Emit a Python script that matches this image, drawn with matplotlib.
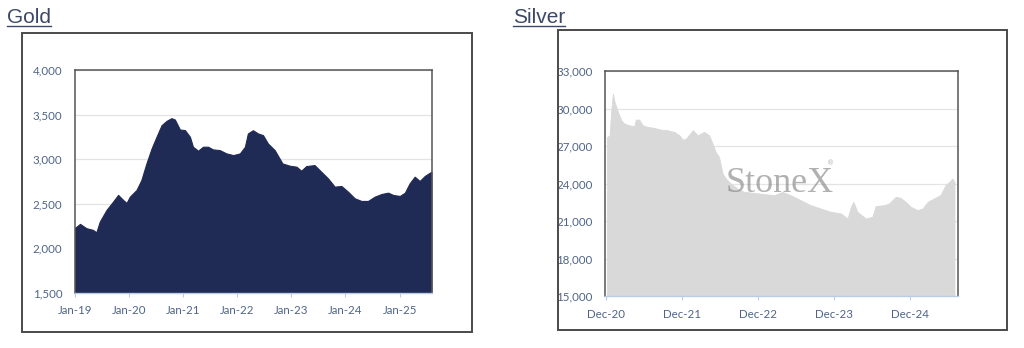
import matplotlib
matplotlib.use("Agg")
import matplotlib.pyplot as plt
import matplotlib.dates as mdates
from matplotlib.patches import Rectangle
from matplotlib.lines import Line2D
from matplotlib.ticker import FuncFormatter, FixedLocator
import pandas as pd

# ---- Gold price series ----
gold_dates = [
    "2019-01-01", "2019-02-04", "2019-03-18", "2019-05-02", "2019-05-25", "2019-06-17",
    "2019-08-01", "2019-09-15", "2019-10-19", "2019-11-22", "2019-12-15", "2020-01-06",
    "2020-02-20", "2020-03-24", "2020-04-27", "2020-06-01", "2020-07-04", "2020-08-07",
    "2020-09-10", "2020-10-13", "2020-11-05", "2020-12-09", "2021-01-12", "2021-02-15",
    "2021-03-07", "2021-04-11", "2021-05-14", "2021-06-17", "2021-07-20", "2021-09-04",
    "2021-10-19", "2021-12-04", "2022-01-18", "2022-02-21", "2022-03-13", "2022-04-16",
    "2022-05-20", "2022-06-23", "2022-07-26", "2022-09-10", "2022-11-01", "2022-12-20",
    "2023-02-04", "2023-03-08", "2023-04-11", "2023-06-06", "2023-07-21", "2023-09-05",
    "2023-10-20", "2023-12-04", "2024-01-18", "2024-03-03", "2024-04-17", "2024-06-01",
    "2024-07-16", "2024-08-31", "2024-10-15", "2024-11-18", "2025-01-02", "2025-02-05",
    "2025-03-09", "2025-04-12", "2025-05-16", "2025-06-19", "2025-08-03",
]
gold_values = [
    2230, 2275, 2227, 2208, 2180, 2300,
    2430, 2525, 2600, 2543, 2510, 2580,
    2655, 2767, 2953, 3121, 3251, 3381,
    3430, 3460, 3445, 3333, 3326, 3251,
    3140, 3095, 3140, 3140, 3110, 3102,
    3065, 3046, 3065, 3140, 3289, 3325,
    3289, 3270, 3177, 3102, 2953, 2927,
    2916, 2871, 2923, 2934, 2860, 2785,
    2692, 2700, 2636, 2562, 2532, 2532,
    2580, 2610, 2625, 2599, 2588, 2625,
    2730, 2804, 2756, 2812, 2860,
]

# ---- Silver price series ----
silver_dates = [
    "2020-12-07", "2020-12-20", "2020-12-28", "2021-01-05", "2021-01-13", "2021-01-29",
    "2021-02-14", "2021-03-01", "2021-03-24", "2021-04-17", "2021-04-25", "2021-05-11",
    "2021-05-27", "2021-06-20", "2021-07-22", "2021-08-23", "2021-09-24", "2021-10-26",
    "2021-11-20", "2021-12-06", "2021-12-22", "2022-01-23", "2022-02-16", "2022-03-18",
    "2022-04-12", "2022-04-28", "2022-05-13", "2022-05-29", "2022-06-15", "2022-07-01",
    "2022-07-24", "2022-08-26", "2022-09-27", "2022-11-14", "2023-01-02", "2023-02-19",
    "2023-03-29", "2023-05-07", "2023-06-09", "2023-07-11", "2023-08-12", "2023-09-29",
    "2023-11-16", "2024-01-04", "2024-02-05", "2024-02-21", "2024-03-04", "2024-03-23",
    "2024-05-02", "2024-06-03", "2024-06-19", "2024-07-29", "2024-08-22", "2024-09-23",
    "2024-10-17", "2024-11-10", "2024-12-04", "2025-01-06", "2025-01-30", "2025-02-23",
    "2025-03-25", "2025-04-26", "2025-05-20", "2025-06-13", "2025-06-21", "2025-07-02",
]
silver_values = [
    27700, 27860, 29860, 31190, 30520, 29725,
    29060, 28790, 28660, 28580, 29110, 29110,
    28660, 28530, 28450, 28310, 28260, 28130,
    27860, 27510, 27590, 28260, 27860, 28130,
    27860, 27190, 26530, 26130, 24800, 24400,
    24000, 23600, 23330, 23250, 23150, 23070,
    23330, 23070, 22800, 22530, 22270, 22000,
    21740, 21600, 21200, 22140, 22530, 21740,
    21200, 21340, 22190, 22270, 22400, 22930,
    22850, 22530, 22140, 21870, 22000, 22530,
    22800, 23070, 23870, 24210, 24400, 24130,
]

gold_ticks = ["2019-01-01", "2020-01-01", "2021-01-01", "2022-01-01",
              "2023-01-01", "2024-01-01", "2025-01-01"]
silver_ticks = ["2020-12-01", "2021-12-01", "2022-12-01", "2023-12-01", "2024-12-01"]

W, H = 1024, 348
fig = plt.figure(figsize=(W / 100, H / 100), dpi=100)
fig.patch.set_facecolor("white")

TICK_COLOR = "#4f6488"
TITLE_COLOR = "#3d4868"
FRAME = "#555555"
AXIS_BLUE = "#b9cde6"


def fig_rect(x0, y0, x1, y1):
    """Pixel box (top-left origin) -> figure-fraction [left, bottom, width, height]."""
    return [x0 / W, 1 - y1 / H, (x1 - x0) / W, (y1 - y0) / H]


def outer_box(x0, y0, x1, y1):
    l, b, w, h = fig_rect(x0, y0, x1, y1)
    fig.add_artist(Rectangle((l, b), w, h, transform=fig.transFigure,
                             fill=False, edgecolor="#4a4a4a", linewidth=1.4))


def style_axes(ax, ymin, ymax, ystep, ticks, fmt):
    ax.set_ylim(ymin, ymax)
    ax.yaxis.set_major_locator(FixedLocator(list(range(ymin, ymax + 1, ystep))))
    ax.yaxis.set_major_formatter(FuncFormatter(lambda v, p: f"{v:,.0f}"))
    ax.grid(axis="y", color="#e4e4e4", linewidth=0.9)
    ax.set_axisbelow(True)
    tick_dates = pd.to_datetime(ticks)
    ax.set_xticks(tick_dates)
    ax.xaxis.set_major_formatter(mdates.DateFormatter(fmt))
    for side in ("left", "top", "right"):
        ax.spines[side].set_color(FRAME)
        ax.spines[side].set_linewidth(1.1)
    ax.spines["bottom"].set_color(AXIS_BLUE)
    ax.spines["bottom"].set_linewidth(1.0)
    ax.tick_params(axis="y", length=0, pad=9, labelsize=8.3, labelcolor=TICK_COLOR)
    ax.tick_params(axis="x", length=3, width=0.8, color=AXIS_BLUE, pad=6,
                   labelsize=8.3, labelcolor=TICK_COLOR)
    for lbl in ax.get_xticklabels() + ax.get_yticklabels():
        lbl.set_fontfamily("Lato")


# ---- Gold panel ----
outer_box(22, 33, 472, 332)
ax_g = fig.add_axes(fig_rect(75, 70, 432, 293))
gd = pd.to_datetime(gold_dates)
ax_g.fill_between(gd, gold_values, 1500, color="#1f2a55", linewidth=0.8,
                  edgecolor="#1f2a55", zorder=2)
ax_g.set_xlim(pd.Timestamp("2019-01-01"), pd.Timestamp("2025-08-07"))
style_axes(ax_g, 1500, 4000, 500, gold_ticks, "%b-%y")

# ---- Silver panel ----
outer_box(558, 30, 1007, 330)
ax_s = fig.add_axes(fig_rect(605, 71, 958, 296))
sd = pd.to_datetime(silver_dates)
ax_s.fill_between(sd, silver_values, 15000, color="#d9d9d9", linewidth=0.6,
                  edgecolor="#d9d9d9", zorder=2)
ax_s.set_xlim(pd.Timestamp("2020-11-28"), pd.Timestamp("2025-07-19"))
style_axes(ax_s, 15000, 33000, 3000, silver_ticks, "%b-%y")

# StoneX watermark over the silver chart
ax_s.text(0.495, 0.50, "StoneX", transform=ax_s.transAxes, ha="center", va="center",
          fontsize=26, family="Liberation Serif", color="#7d7d7d", alpha=0.6, zorder=3)
ax_s.text(0.64, 0.59, "®", transform=ax_s.transAxes, ha="center", va="center",
          fontsize=5, family="DejaVu Sans", color="#7d7d7d", alpha=0.6, zorder=3)

# ---- Underlined panel titles ----
titles = [("Gold", 7, 23), ("Silver", 513, 23)]
title_artists = []
for name, px, py in titles:
    t = fig.text(px / W, 1 - py / H, name, ha="left", va="baseline",
                 fontsize=15, family="Liberation Sans", color=TITLE_COLOR)
    title_artists.append((t, py))

fig.canvas.draw()
renderer = fig.canvas.get_renderer()
for t, py in title_artists:
    bb = t.get_window_extent(renderer)
    yline = 1 - (py + 2.5) / H
    fig.add_artist(Line2D([bb.x0 / W, bb.x1 / W], [yline, yline],
                          transform=fig.transFigure, color=TITLE_COLOR, linewidth=1.0))

fig.savefig("out.png", dpi=100, facecolor="white")
